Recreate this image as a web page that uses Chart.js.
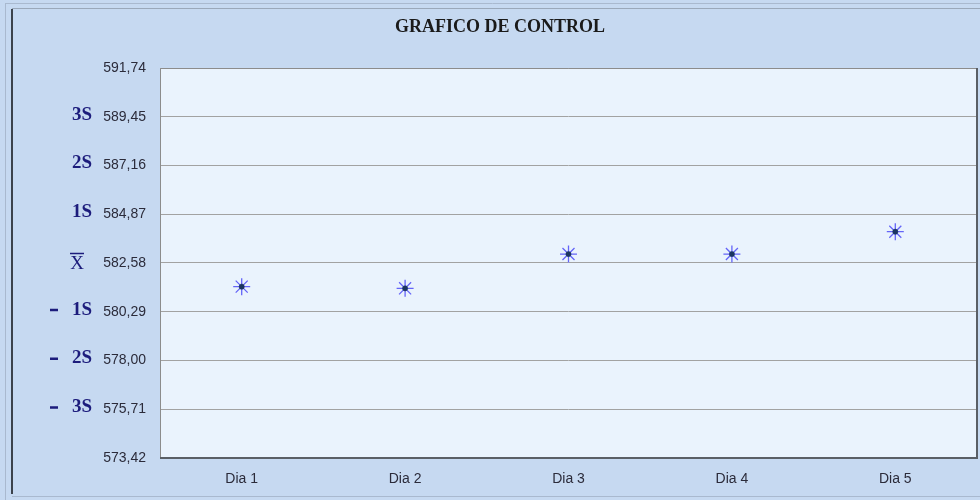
<!DOCTYPE html>
<html>
<head>
<meta charset="utf-8">
<script src="https://cdn.jsdelivr.net/npm/chart.js@4"></script>
<style>
    html, body { margin: 0; padding: 0; background: #c6d9f1; }
    #wrap { width: 980px; height: 500px; position: relative; }
</style>
</head>
<body>
<div id="wrap"><canvas id="chart1" width="980" height="500"></canvas></div>
<script>
// datos del grafico
var dias = ['Dia 1', 'Dia 2', 'Dia 3', 'Dia 4', 'Dia 5'];
var valores = [581.47, 581.39, 583.00, 583.00, 584.05];
var limites = [591.74, 589.45, 587.16, 584.87, 582.58, 580.29, 578.00, 575.71, 573.42];
var sigmas = ['', '3S', '2S', '1S', 'X', '1S', '2S', '3S', ''];
var signos = ['', '', '', '', '', '-', '-', '-', ''];

document.addEventListener('DOMContentLoaded', function () {
    var ctx1 = document.getElementById('chart1').getContext('2d');

    // fondo, marco y etiquetas sigma
    var marco = {
        id: 'marco',
        beforeDraw: function (chart) {
            var c = chart.ctx;
            var a = chart.chartArea;
            c.save();
            c.fillStyle = '#c6d9f1';
            c.fillRect(0, 0, chart.width, chart.height);
            c.fillStyle = '#eaf3fd';
            c.fillRect(a.left, a.top, a.right - a.left, a.bottom - a.top);
            // lineas del marco exterior
            c.strokeStyle = '#a9b9cf';
            c.lineWidth = 1;
            c.beginPath();
            c.moveTo(5.5, 3); c.lineTo(5.5, 500);
            c.moveTo(5, 3.5); c.lineTo(980, 3.5);
            c.moveTo(12, 496.5); c.lineTo(980, 496.5);
            c.stroke();
            c.strokeStyle = '#9aa8ba';
            c.beginPath();
            c.moveTo(12, 8.5); c.lineTo(980, 8.5);
            c.stroke();
            c.strokeStyle = '#3c434c';
            c.lineWidth = 2;
            c.beginPath();
            c.moveTo(12, 9); c.lineTo(12, 494);
            c.stroke();
            c.restore();
        },
        afterDraw: function (chart) {
            var c = chart.ctx;
            var a = chart.chartArea;
            var y = chart.scales.y;
            c.save();
            // borde del area de trazado
            c.strokeStyle = '#8c8c8c';
            c.lineWidth = 1;
            c.beginPath();
            c.moveTo(a.left + 0.5, a.bottom); c.lineTo(a.left + 0.5, a.top + 0.5); c.lineTo(a.right, a.top + 0.5);
            c.stroke();
            c.strokeStyle = '#5a5f66';
            c.lineWidth = 2;
            c.beginPath();
            c.moveTo(a.right, a.top); c.lineTo(a.right, a.bottom); c.lineTo(a.left, a.bottom);
            c.stroke();

            // titulo
            c.fillStyle = '#1a1a1a';
            c.font = 'bold 18px "Liberation Serif", serif';
            c.textAlign = 'center';
            c.textBaseline = 'middle';
            c.fillText('GRAFICO DE CONTROL', 500, 27);

            // etiquetas 3S, 2S, 1S, X, -1S ...
            c.fillStyle = '#1c1c7c';
            c.strokeStyle = '#1c1c7c';
            c.font = 'bold 19px "Liberation Serif", serif';
            c.textBaseline = 'middle';
            limites.forEach(function (v, i) {
                var py = y.getPixelForValue(v);
                if (sigmas[i] === 'X') {
                    c.textAlign = 'center';
                    c.font = '19px "Liberation Serif", serif';
                    c.fillText('X', 77, py + 1);
                    c.lineWidth = 1.5;
                    c.beginPath();
                    c.moveTo(70, py - 9.5); c.lineTo(84, py - 9.5);
                    c.stroke();
                    c.font = 'bold 19px "Liberation Serif", serif';
                } else if (sigmas[i]) {
                    c.textAlign = 'right';
                    c.fillText(sigmas[i], 92, py - 2);
                }
                if (signos[i]) {
                    c.fillRect(50, py - 3, 8, 2.5);
                }
            });
            c.restore();
        }
    };

    var chart1 = new Chart(ctx1, {
        type: 'line',
        data: {
            labels: dias,
            datasets: [{
                label: 'Centro',
                data: valores,
                order: 0,
                showLine: false,
                pointStyle: 'circle',
                pointRadius: 2.6,
                pointBackgroundColor: '#1b3560',
                pointBorderColor: '#1b3560',
                pointBorderWidth: 0.5
            }, {
                label: 'Media',
                data: valores,
                order: 1,
                showLine: false,
                pointStyle: 'star',
                pointRadius: 8.5,
                pointBorderColor: '#6464f8',
                pointBackgroundColor: '#6464f8',
                pointBorderWidth: 1.3
            }]
        },
        options: {
            responsive: false,
            animation: false,
            layout: {
                autoPadding: false,
                padding: { left: 20, top: 68, right: 3, bottom: 0 }
            },
            plugins: {
                legend: { display: false },
                title: { display: false },
                tooltip: { enabled: false }
            },
            scales: {
                x: {
                    offset: true,
                    grid: { display: false, drawTicks: false },
                    border: { display: false },
                    ticks: {
                        color: '#2b2b3a',
                        padding: 13,
                        font: { family: '"Liberation Sans", Arial, sans-serif', size: 14 }
                    },
                    afterFit: function (scale) {
                        scale.height = 42;
                        scale.paddingLeft = 0;
                        scale.paddingRight = 0;
                    }
                },
                y: {
                    min: limites[limites.length - 1],
                    max: limites[0],
                    afterBuildTicks: function (scale) {
                        scale.ticks = limites.map(function (v) { return { value: v }; });
                    },
                    grid: { color: '#a2a2a2', lineWidth: 1, drawTicks: false },
                    border: { display: false },
                    ticks: {
                        color: '#2b2b3a',
                        padding: 14,
                        font: { family: '"Liberation Sans", Arial, sans-serif', size: 14 },
                        callback: function (v) { return v.toFixed(2).replace('.', ','); }
                    },
                    afterFit: function (scale) { scale.width = 140; }
                }
            }
        },
        plugins: [marco]
    });
});
</script>
</body>
</html>
